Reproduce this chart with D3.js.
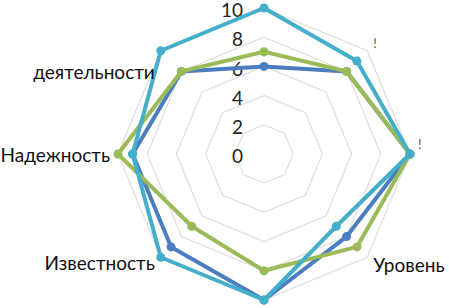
<!DOCTYPE html>
<html><head><meta charset="utf-8">
<script src="https://cdn.jsdelivr.net/npm/d3@7"></script>
<style>body{margin:0;background:#fff}svg{display:block}</style></head>
<body>
<svg id="c" width="449" height="308"></svg>
<script>
const categories = ["", "!", "!", "Уровень", "", "Известность", "Надежность", "деятельности"];
const seriesBlue  = [6, 8, 10, 8, 10, 9, 9, 8];
const seriesGreen = [7, 8, 10, 9, 8, 7, 10, 8];
const seriesTeal  = [10, 9, 10, 7, 10, 10, 9, 10];
const tickValues = [0, 2, 4, 6, 8, 10];
const tickLabels = ["0", "2", "4", "6", "8", "10"];

const series = [
  {values: seriesBlue, color: "#4A7EC0"},
  {values: seriesGreen, color: "#9BBB59"},
  {values: seriesTeal, color: "#45AECA"}
];

const svg = d3.select("#c");
const cx = 264, cy = 154;
const r = d3.scaleLinear().domain([0, 10]).range([0, 146]);
const n = categories.length;
const ang = d3.scaleLinear().domain([0, n]).range([0, 2 * Math.PI]);
const g = svg.append("g").attr("transform", `translate(${cx},${cy})`);

const ringLine = d3.lineRadial().curve(d3.curveLinearClosed);
// grid rings
tickValues.filter(v => v > 0).forEach(v => {
  g.append("path")
    .attr("d", ringLine(d3.range(n).map(i => [ang(i), r(v)])))
    .attr("fill", "none").attr("stroke", "#DEDEDE").attr("stroke-width", 1.2);
});

// tick labels
g.selectAll("text.tick").data(tickValues).join("text")
  .attr("class", "tick")
  .attr("x", -21).attr("y", d => -r(d))
  .attr("dy", "0.48em")
  .attr("text-anchor", "end")
  .attr("font-family", "Lato, 'Open Sans', sans-serif")
  .attr("font-size", 19).attr("fill", "#222")
  .text((d, i) => tickLabels[i]);

// series
const pt = (v, i) => [r(v) * Math.sin(ang(i)), -r(v) * Math.cos(ang(i))];
series.forEach(s => {
  g.append("path")
    .attr("d", ringLine(s.values.map((v, i) => [ang(i), r(v)])))
    .attr("fill", "none").attr("stroke", s.color).attr("stroke-width", 4)
    .attr("stroke-linejoin", "round");
  g.selectAll(null).data(s.values).join("circle")
    .attr("cx", (v, i) => pt(v, i)[0]).attr("cy", (v, i) => pt(v, i)[1])
    .attr("r", 4.5).attr("fill", s.color);
});

// category labels
const labelLayout = {
  1: {dx: 6, dy: -7, anchor: "start", size: 13, color: "#555"},
  2: {dx: 8, dy: -10, anchor: "start", size: 13, color: "#555"},
  3: {dx: 6, dy: 8, anchor: "start"},
  5: {dx: -6, dy: 6, anchor: "end"},
  6: {dx: -8, dy: 1, anchor: "end"},
  7: {dx: -6, dy: 21, anchor: "end"}
};
categories.forEach((c, i) => {
  if (!c) return;
  const L = labelLayout[i] || {dx: 0, dy: 0, anchor: "middle"};
  const p = pt(10, i);
  g.append("text")
    .attr("x", p[0] + L.dx).attr("y", p[1] + L.dy)
    .attr("dy", "0.36em")
    .attr("text-anchor", L.anchor)
    .attr("font-family", "Lato, 'Open Sans', sans-serif")
    .attr("font-size", L.size || 19)
    .attr("fill", L.color || "#111")
    .text(c);
});
</script>
</body></html>
